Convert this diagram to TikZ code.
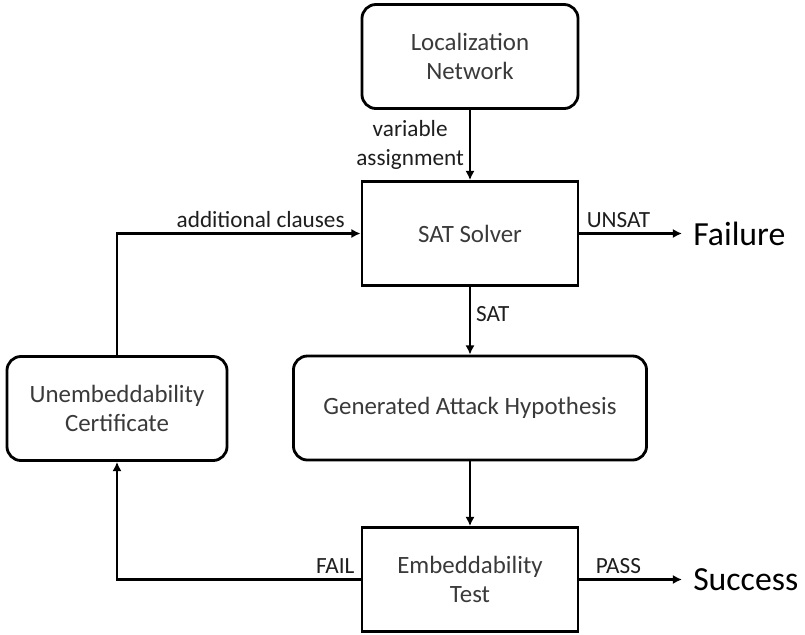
\documentclass[tikz,border=0pt]{standalone}
\usepackage{fontspec}
\setmainfont{Carlito}
\usepackage{tikz}
\usetikzlibrary{arrows.meta}
\usetikzlibrary{calc}
\definecolor{boxgray}{HTML}{3A3A3A}
\definecolor{labelgray}{HTML}{1E1E1E}

\begin{document}
\begin{tikzpicture}[
    x=0.025cm, y=-0.025cm,
    flow/.style={-{Latex[length=6.5pt,width=6.5pt]}, line width=2pt},
    box/.style={draw, line width=2pt, align=center, text=boxgray, inner sep=0pt,
        minimum width=5.4cm, minimum height=2.6cm, font=\fontsize{17.7}{21}\selectfont},
    round box/.style={box, rounded corners=0.35cm},
    edge label/.style={text=labelgray, align=center, font=\fontsize{16.5}{20.5}\selectfont},
    result/.style={anchor=west, inner xsep=7.8pt, font=\fontsize{24}{28}\selectfont}
    ]
   \useasboundingbox (0,0) rectangle (805,634);
   % boxes
   \node[round box] (lnet) at (470,56.5) {Localization\\Network};
   \node[box] (solver) at (470,233.5) {SAT Solver};
   \node[round box, minimum width=8.825cm] (hyp) at (470,408) {Generated Attack Hypothesis};
   \node[round box, minimum width=5.5cm] (cert) at (117,408.5) {Unembeddability\\Certificate};
   \node[box] (emb) at (470,579.5) {Embeddability\\Test};
   % outcomes
   \node[result] (failure) at (682,233.5) {Failure};
   \node[result] (success) at (682,579.5) {Success};
   % arrows
   \draw[flow] (lnet) -- node[edge label, midway, left] {variable\\assignment} (solver);
   \draw[flow] (solver) -- node[edge label, pos=0.4, right] {SAT} (hyp);
   \draw[flow] (hyp) -- (emb);
   \draw[flow] (solver) -- node[edge label, pos=0.38, above] {UNSAT} (failure);
   \draw[flow] (emb) -- node[edge label, pos=0.38, above] {PASS} (success);
   \draw[flow] (emb.west) -| node[edge label, pos=0, above left] {FAIL} (cert.south);
   \draw[flow] (cert.north) |- node[edge label, pos=0.795, above] {additional clauses} (solver.west);
\end{tikzpicture}
\end{document}
